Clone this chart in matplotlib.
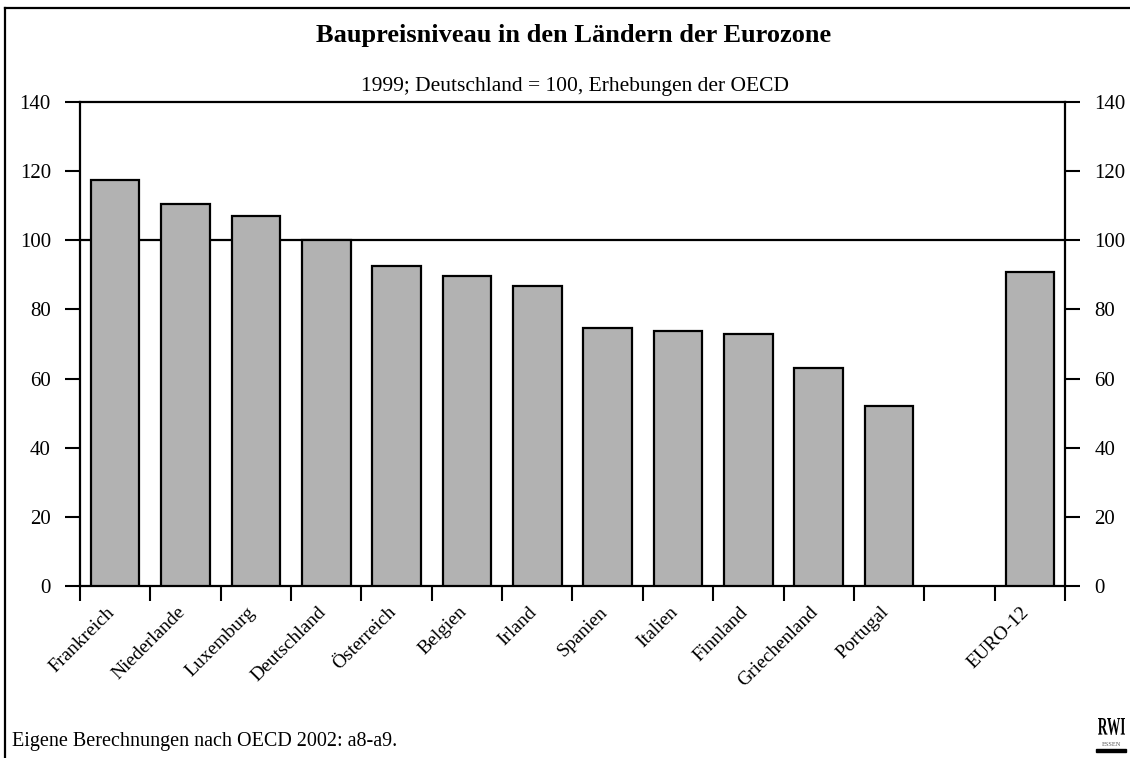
import matplotlib
matplotlib.use("Agg")
import matplotlib.pyplot as plt
from matplotlib.lines import Line2D
from matplotlib.patches import Rectangle, PathPatch
from matplotlib.textpath import TextPath
from matplotlib.font_manager import FontProperties
from matplotlib.transforms import ScaledTranslation, Affine2D

plt.rcParams['font.family'] = ['Liberation Serif', 'DejaVu Serif']

# Construction price level, 1999, Germany = 100
countries = ["Frankreich", "Niederlande", "Luxemburg", "Deutschland", "Österreich",
             "Belgien", "Irland", "Spanien", "Italien", "Finnland",
             "Griechenland", "Portugal", "", "EURO-12"]
values = [117.5, 110.4, 107.0, 100.0, 92.6, 89.7, 86.8, 74.5, 73.9, 72.8,
          63.0, 52.0, None, 90.7]
y_ticks = [0, 20, 40, 60, 80, 100, 120, 140]

W, H = 1130, 758
fig = plt.figure(figsize=(W / 100, H / 100), dpi=100)
ax = fig.add_axes([80 / W, 1 - 586 / H, (1065 - 80) / W, (586 - 102) / H])

xs = [i for i, v in enumerate(values) if v is not None]
hs = [v for v in values if v is not None]
ax.bar(xs, hs, width=0.69, color="#b2b2b2", edgecolor="black", linewidth=1.6, zorder=3)

ax.set_xlim(-0.5, len(countries) - 0.5)
ax.set_ylim(0, 140)
ax.axhline(100, color="black", linewidth=1.6, zorder=2)

# slot boundaries carry the tick marks, labels sit at slot centres
ax.set_xticks([i - 0.5 for i in range(len(countries) + 1)])
ax.set_xticklabels([])
ax.tick_params(axis="x", which="major", direction="out", length=11, width=1.5)
ax.set_xticks(range(len(countries)), minor=True)
ax.set_xticklabels(countries, minor=True, rotation=45, ha="right", va="center",
                   rotation_mode="anchor", fontsize=14)
ax.tick_params(axis="x", which="minor", length=0, pad=17)
shift = ScaledTranslation(-3 / 100, 0, fig.dpi_scale_trans)
for lab in ax.get_xticklabels(minor=True):
    lab.set_transform(lab.get_transform() + shift)

ax.set_yticks(y_ticks)
ax.set_yticklabels([str(t) for t in y_ticks], fontsize=15)
ax.tick_params(axis="y", direction="out", length=11, width=1.5, pad=10,
               left=True, right=True, labelleft=True, labelright=True)

for s in ax.spines.values():
    s.set_linewidth(1.6)

fig.text(574 / W, 1 - 42 / H, "Baupreisniveau in den Ländern der Eurozone",
         ha="center", va="baseline", fontsize=19, fontweight="bold")
fig.text(575 / W, 1 - 91 / H, "1999; Deutschland = 100, Erhebungen der OECD",
         ha="center", va="baseline", fontsize=15.5)
fig.text(12 / W, 1 - 746 / H, "Eigene Berechnungen nach OECD 2002: a8-a9.",
         ha="left", va="baseline", fontsize=14.5)

# RWI logo: condensed bold lettering, small caption and a black bar
tp = TextPath((0, 0), "RWI", size=20,
              prop=FontProperties(family="Liberation Serif", weight="bold"))
bb = tp.get_extents()
sx = 27 / bb.width
sy = 17 / bb.height
logo_tf = (Affine2D().translate(-bb.x0, -bb.y0)
           .scale(sx / 100, sy / 100)
           .translate(1098 / 100, (H - 735) / 100) + fig.dpi_scale_trans)
fig.add_artist(PathPatch(tp, transform=logo_tf, facecolor="black", edgecolor="none"))
fig.text(1111 / W, 1 - 744 / H, "ESSEN", ha="center", va="center", fontsize=4.5,
         color="#555555")
fig.add_artist(Rectangle((1096 / W, 1 - 752 / H), 30 / W, 3 / H,
                         transform=fig.transFigure, color="black"))

# figure frame
fig.add_artist(Line2D([5 / W, 5 / W], [0, 1 - 8 / H], transform=fig.transFigure,
                      color="black", linewidth=1.6))
fig.add_artist(Line2D([5 / W, 1], [1 - 8 / H, 1 - 8 / H], transform=fig.transFigure,
                      color="black", linewidth=1.6))

fig.savefig("out.png", dpi=100)
